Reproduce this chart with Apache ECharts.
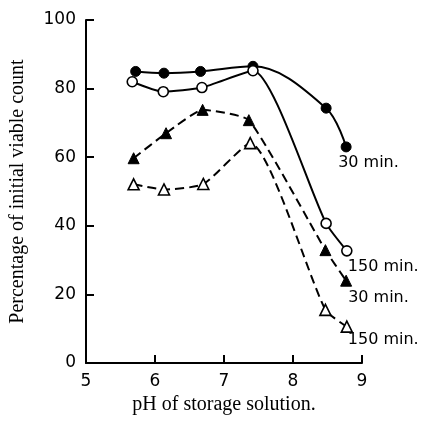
<!DOCTYPE html>
<html><head><meta charset="utf-8">
<script src="https://cdn.jsdelivr.net/npm/echarts@6/dist/echarts.min.js"></script>
<style>html,body{margin:0;padding:0;background:#fff}#c{width:427px;height:423px}</style>
</head><body><div id="c"></div>
<script>
// Data
var phFilledCircle = [5.72, 6.13, 6.66, 7.42, 8.48, 8.77];
var valFilledCircle = [85.0, 84.5, 85.0, 86.5, 74.3, 63.0];
var phOpenCircle = [5.67, 6.12, 6.68, 7.42, 8.48, 8.78];
var valOpenCircle = [82.0, 79.1, 80.3, 85.2, 40.7, 32.7];
var phFilledTri = [5.69, 6.16, 6.69, 7.36, 8.47, 8.77];
var valFilledTri = [59.7, 67.0, 73.8, 70.8, 32.9, 24.0];
var phOpenTri = [5.69, 6.13, 6.70, 7.38, 8.47, 8.78];
var valOpenTri = [52.1, 50.6, 52.2, 64.1, 15.5, 10.6];
var endLabels = ['30 min.', '150 min.', '30 min.', '150 min.'];
var xTicks = [5, 6, 7, 8, 9];
var yTicks = [0, 20, 40, 60, 80, 100];

function pts(xs, ys) { return xs.map(function (x, i) { return [x, ys[i]]; }); }
function withLabel(data, text, dx, dy) {
  var last = data.length - 1;
  data[last] = {
    value: data[last],
    label: {
      show: true, formatter: text, position: 'inside', align: 'left', verticalAlign: 'middle',
      offset: [dx, dy], color: '#000', fontFamily: 'DejaVu Sans', fontSize: 16
    }
  };
  return data;
}

var chart = echarts.init(document.getElementById('c'), null, { renderer: 'canvas' });
var axisFont = { color: '#000', fontFamily: 'DejaVu Sans', fontSize: 17 };
chart.setOption({
  animation: false,
  backgroundColor: '#fff',
  grid: { left: 85, right: 65, top: 20, bottom: 60 },
  xAxis: {
    type: 'value', min: xTicks[0], max: xTicks[xTicks.length - 1], interval: 1,
    name: 'pH of storage solution.', nameLocation: 'middle', nameGap: 32,
    nameTextStyle: { color: '#000', fontFamily: 'Liberation Serif', fontSize: 20 },
    axisLine: { lineStyle: { color: '#000', width: 2 } },
    axisTick: { inside: true, length: 8, lineStyle: { color: '#000', width: 2 } },
    axisLabel: Object.assign({ margin: 10 }, axisFont),
    splitLine: { show: false }
  },
  yAxis: {
    type: 'value', min: yTicks[0], max: yTicks[yTicks.length - 1], interval: 20,
    name: 'Percentage of initial viable count', nameLocation: 'middle', nameGap: 58,
    nameTextStyle: { color: '#000', fontFamily: 'Liberation Serif', fontSize: 20 },
    axisLine: { show: true, lineStyle: { color: '#000', width: 2 } },
    axisTick: { show: true, inside: true, length: 8, lineStyle: { color: '#000', width: 2 } },
    axisLabel: Object.assign({ margin: 10 }, axisFont),
    splitLine: { show: false }
  },
  series: [
    {
      type: 'line', smooth: 0.35, symbol: 'circle', symbolSize: 10,
      data: withLabel(pts(phFilledCircle, valFilledCircle), endLabels[0], -8, 16),
      lineStyle: { color: '#000', width: 2 },
      itemStyle: { color: '#000', borderColor: '#000', borderWidth: 1 }, z: 3
    },
    {
      type: 'line', smooth: 0.2, symbol: 'circle', symbolSize: 10,
      data: withLabel(pts(phOpenCircle, valOpenCircle), endLabels[1], 1, 16),
      lineStyle: { color: '#000', width: 2 },
      itemStyle: { color: '#fff', borderColor: '#000', borderWidth: 1.6 }, z: 4
    },
    {
      type: 'line', smooth: 0.15, symbol: 'triangle', symbolSize: 11,
      data: withLabel(pts(phFilledTri, valFilledTri), endLabels[2], 2, 17),
      lineStyle: { color: '#000', width: 2, type: [9, 5] },
      itemStyle: { color: '#000', borderColor: '#000', borderWidth: 1 }, z: 3
    },
    {
      type: 'line', smooth: 0.2, symbol: 'triangle', symbolSize: 11,
      data: withLabel(pts(phOpenTri, valOpenTri), endLabels[3], 1, 13),
      lineStyle: { color: '#000', width: 2, type: [9, 5] },
      itemStyle: { color: '#fff', borderColor: '#000', borderWidth: 1.6 }, z: 4
    }
  ]
});
</script>
</body></html>
